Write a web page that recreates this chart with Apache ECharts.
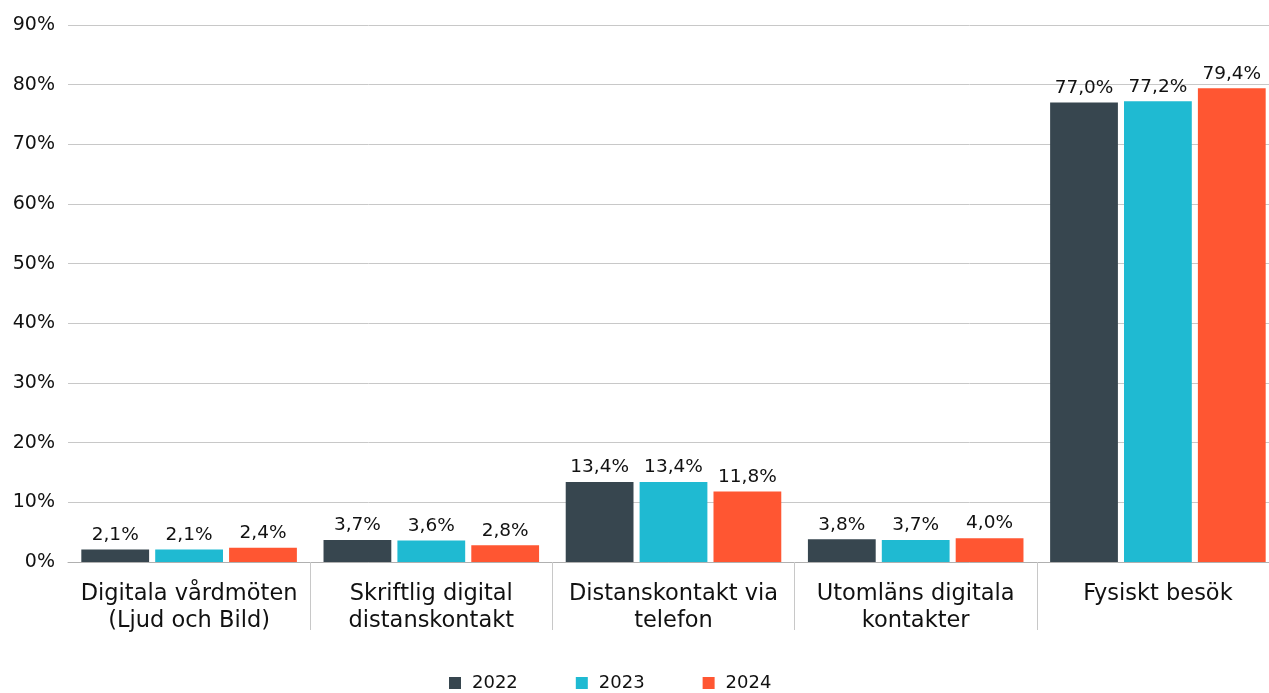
<!DOCTYPE html>
<html><head><meta charset="utf-8">
<script src="https://cdn.jsdelivr.net/npm/echarts@6/dist/echarts.min.js"></script>
<style>html,body{margin:0;padding:0;background:#fff}#c{width:1269px;height:693px}</style>
</head><body><div id="c"></div>
<script>
const categories = ["Digitala vårdmöten\n(Ljud och Bild)", "Skriftlig digital\ndistanskontakt", "Distanskontakt via\ntelefon", "Utomläns digitala\nkontakter", "Fysiskt besök"];
const seriesNames = ["2022", "2023", "2024"];
const v2022 = [2.1, 3.7, 13.4, 3.8, 77.0];
const v2023 = [2.1, 3.6, 13.4, 3.7, 77.2];
const v2024 = [2.4, 2.8, 11.8, 4.0, 79.4];
const colors = ["#37464f", "#1fbad2", "#ff5632"];
const FONT = "DejaVu Sans";
const chart = echarts.init(document.getElementById('c'));
const mk = (name, data, color) => ({
  name, type: 'bar', data, barGap: '9%', barCategoryGap: '11%',
  itemStyle: { color },
  label: { show: true, position: 'top', distance: 5, fontFamily: FONT, fontSize: 18.5, color: '#111',
    formatter: p => p.value.toFixed(1).replace('.', ',') + '%' }
});
chart.setOption({
  animation: false,
  textStyle: { fontFamily: FONT },
  legend: { top: 669, left: 444, itemWidth: 12, itemHeight: 12, itemGap: 58, icon: 'rect',
    textStyle: { fontFamily: FONT, fontSize: 18, color: '#111', padding: [0, 0, 0, 6] }, data: seriesNames },
  grid: { left: 68, width: 1211, top: 25, bottom: 131, containLabel: false, outerBoundsMode: 'none' },
  xAxis: { type: 'category', data: categories,
    axisLine: { lineStyle: { color: '#b0b0b0', width: 1 } },
    axisTick: { show: true, length: 68, lineStyle: { color: '#c8c8c8' }, interval: (i) => i > 0 },
    axisLabel: { interval: 0, fontFamily: FONT, fontSize: 22.5, color: '#111', lineHeight: 27, margin: 19 } },
  yAxis: { type: 'value', min: 0, max: 90, interval: 10,
    axisLine: { show: false }, axisTick: { show: false },
    splitLine: { lineStyle: { color: '#c8c8c8' } },
    axisLabel: { fontFamily: FONT, fontSize: 19, color: '#111', margin: 13, formatter: v => v + '%' } },
  series: [mk(seriesNames[0], v2022, colors[0]), mk(seriesNames[1], v2023, colors[1]), mk(seriesNames[2], v2024, colors[2])]
});
</script></body></html>
